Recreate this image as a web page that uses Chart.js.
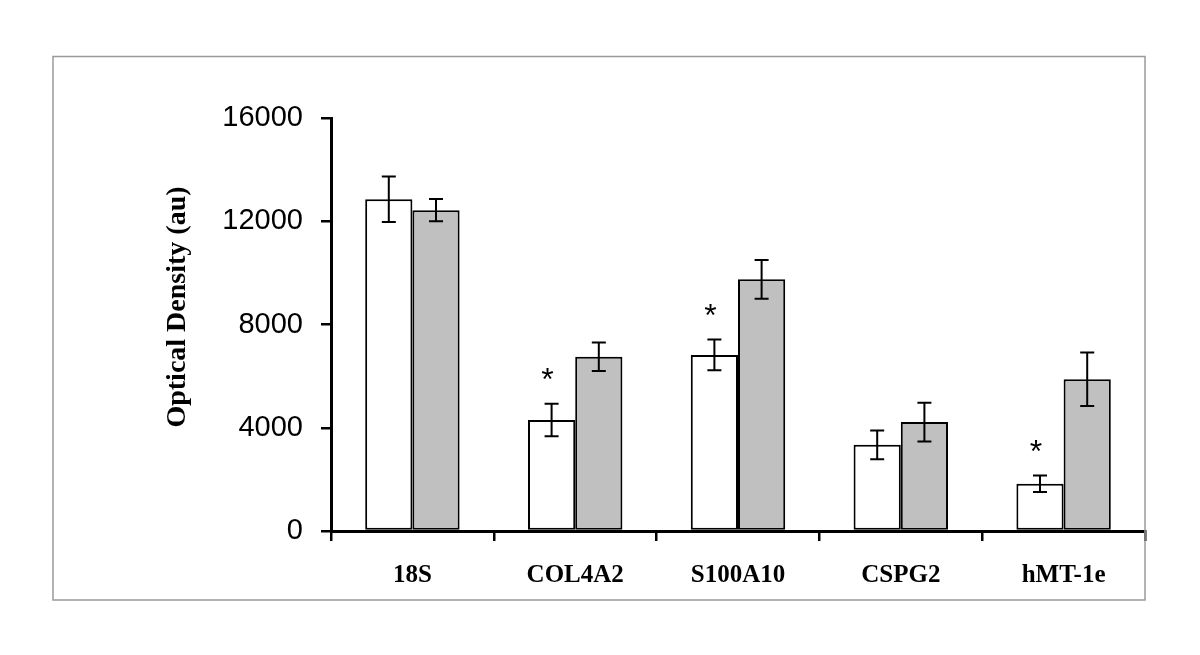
<!DOCTYPE html>
<html>
<head>
<meta charset="utf-8">
<script src="https://cdn.jsdelivr.net/npm/chart.js"></script>
<style>
  body { margin: 0; background: #fff; }
  #wrap { width: 1200px; height: 655px; position: relative; }
</style>
</head>
<body>
<div id="wrap"><canvas id="chart" width="1200" height="655"></canvas></div>
<script>
// values
const genes = ["18S", "COL4A2", "S100A10", "CSPG2", "hMT-1e"];
const controlVals = [12850, 4300, 6820, 3340, 1830];
const controlErr = [880, 630, 595, 556, 320];
const treatedVals = [12430, 6750, 9750, 4220, 5880];
const treatedErr = [430, 555, 750, 750, 1040];
const significant = [false, true, true, false, true];
const yTicks = [0, 4000, 8000, 12000, 16000];

const errs = [controlErr, treatedErr];

// error bars, asterisks, frame and y title
const extras = {
  id: "extras",
  afterDatasetsDraw(chart) {
    const ctx = chart.ctx;
    const y = chart.scales.y;
    ctx.save();
    ctx.strokeStyle = "#000";
    ctx.lineWidth = 2;
    chart.data.datasets.forEach((ds, di) => {
      const meta = chart.getDatasetMeta(di);
      meta.data.forEach((bar, i) => {
        const v = ds.data[i];
        const e = errs[di][i];
        const yt = y.getPixelForValue(v + e);
        const yb = y.getPixelForValue(v - e);
        const x = bar.x;
        ctx.beginPath();
        ctx.moveTo(x, yt); ctx.lineTo(x, yb);
        ctx.moveTo(x - 7, yt); ctx.lineTo(x + 7, yt);
        ctx.moveTo(x - 7, yb); ctx.lineTo(x + 7, yb);
        ctx.stroke();
      });
    });

    // asterisks over the white bars
    const m0 = chart.getDatasetMeta(0);
    ctx.fillStyle = "#000";
    ctx.font = "32px 'Liberation Sans'";
    ctx.textAlign = "center";
    ctx.textBaseline = "alphabetic";
    significant.forEach((s, i) => {
      if (!s) return;
      const top = y.getPixelForValue(controlVals[i] + controlErr[i] + 1300);
      ctx.fillText("*", m0.data[i].x - 4, top + 20);
    });

    // outer frame
    ctx.strokeStyle = "#9a9a9a";
    ctx.lineWidth = 1.5;
    ctx.strokeRect(53, 56.5, 1092, 543.5);

    // y axis title
    ctx.translate(185, 307);
    ctx.rotate(-Math.PI / 2);
    ctx.font = "bold 28px 'Liberation Serif'";
    ctx.textAlign = "center";
    ctx.fillText("Optical Density (au)", 0, 0);
    ctx.restore();
  }
};

new Chart(document.getElementById("chart"), {
  type: "bar",
  data: {
    labels: genes,
    datasets: [
      {
        label: "control",
        data: controlVals,
        backgroundColor: "#ffffff",
        borderColor: "#000",
        borderWidth: 2,
        borderSkipped: false,
        categoryPercentage: 0.58,
        barPercentage: 1.0
      },
      {
        label: "treated",
        data: treatedVals,
        backgroundColor: "#c0c0c0",
        borderColor: "#000",
        borderWidth: 2,
        borderSkipped: false,
        categoryPercentage: 0.58,
        barPercentage: 1.0
      }
    ]
  },
  options: {
    responsive: false,
    animation: false,
    layout: { padding: { left: 0, top: 118, right: 55, bottom: 0 } },
    plugins: {
      legend: { display: false },
      tooltip: { enabled: false }
    },
    scales: {
      x: {
        offset: true,
        grid: {
          offset: true,
          drawOnChartArea: false,
          drawTicks: true,
          tickLength: 10,
          color: "#000",
          lineWidth: 2.5
        },
        border: { display: true, color: "#000", width: 3 },
        ticks: {
          color: "#000",
          padding: 20,
          font: { family: "'Liberation Serif'", size: 25, weight: "bold" }
        },
        afterFit: s => { s.height = 124; }
      },
      y: {
        min: 0,
        max: 16000,
        afterBuildTicks: s => { s.ticks = yTicks.map(v => ({ value: v })); },
        grid: {
          drawOnChartArea: false,
          drawTicks: true,
          tickLength: 10,
          color: "#000",
          lineWidth: 2.5
        },
        border: { display: true, color: "#000", width: 3 },
        ticks: {
          color: "#000",
          padding: 18,
          font: { family: "'Liberation Sans'", size: 29 },
          callback: v => String(v)
        },
        afterFit: s => { s.width = 331; }
      }
    }
  },
  plugins: [extras]
});
</script>
</body>
</html>
